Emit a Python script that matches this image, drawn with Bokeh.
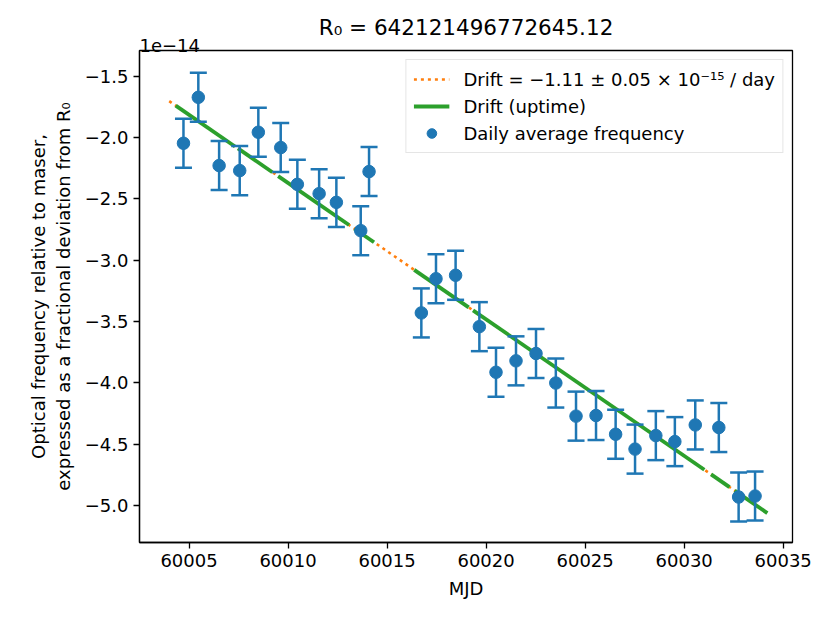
from bokeh.plotting import figure
from bokeh.models import (Range1d, FixedTicker, CustomJSTickFormatter, Legend,
                          LegendItem, Title)
from bokeh.embed import file_html
from bokeh.resources import INLINE

# ---- data (fractional deviation in units of 1e-14) ----
mjd = [60004.72, 60005.47, 60006.52, 60007.56, 60008.50, 60009.63, 60010.47,
       60011.57, 60012.44, 60013.67, 60014.09, 60016.73, 60017.47, 60018.46,
       60019.66, 60020.50, 60021.51, 60022.52, 60023.52, 60024.54, 60025.55,
       60026.54, 60027.52, 60028.57, 60029.53, 60030.56, 60031.75, 60032.75,
       60033.58]
freq = [-2.046, -1.671, -2.228, -2.269, -1.956, -2.081, -2.381, -2.457, -2.528,
        -2.759, -2.277, -3.430, -3.151, -3.123, -3.542, -3.914, -3.821, -3.761,
        -4.002, -4.272, -4.267, -4.420, -4.541, -4.431, -4.480, -4.344, -4.365,
        -4.932, -4.924]
err = [0.20, 0.20, 0.20, 0.20, 0.20, 0.20, 0.20, 0.20, 0.20, 0.20, 0.20, 0.20,
       0.20, 0.20, 0.20, 0.20, 0.20, 0.20, 0.20, 0.20, 0.20, 0.20, 0.20, 0.20,
       0.20, 0.20, 0.20, 0.20, 0.20]

drift_x = [60004.0, 60034.2]
drift_y = [-1.702, -5.063]

uptime_x0 = [60004.33, 60007.47, 60009.50, 60013.35, 60016.37, 60019.34, 60031.36, 60032.55]
uptime_x1 = [60007.32, 60009.21, 60013.08, 60014.34, 60019.12, 60031.02, 60032.29, 60034.20]
uptime_y0 = [-1.739, -2.088, -2.314, -2.743, -3.079, -3.409, -4.747, -4.880]
uptime_y1 = [-2.072, -2.282, -2.713, -2.853, -3.385, -4.709, -4.851, -5.063]

x_ticks = [60005, 60010, 60015, 60020, 60025, 60030, 60035]
y_ticks = [-1.5, -2.0, -2.5, -3.0, -3.5, -4.0, -4.5, -5.0]

title_text = "R\u2080 = 642121496772645.12"
offset_text = "1e\u221214"
x_label = "MJD"
y_label = "Optical frequency relative to maser,\nexpressed as a fractional deviation from R\u2080"
legend_labels = ["Drift = \u22121.11 \u00b1 0.05 \u00d7 10\u207b\u00b9\u2075 / day",
                 "Drift (uptime)", "Daily average frequency"]

BLUE = "#1f77b4"
ORANGE = "#ff7f0e"
GREEN = "#2ca02c"
FONT = "DejaVu Sans"

W, H = 814, 606
ML, MT = 139, 50
MR = 22
MB = 64

p = figure(width=W, height=H, output_backend="svg", toolbar_location=None,
           x_range=Range1d(60002.5, 60035.47), y_range=Range1d(-5.303, -1.289),
           min_border_left=ML, min_border_right=MR, min_border_top=MT,
           min_border_bottom=MB)
p.background_fill_color = "white"
p.border_fill_color = None
p.grid.visible = False
p.outline_line_color = "black"
p.outline_line_width = 1.3
p.outline_line_alpha = 1.0

p.title.text = title_text
p.title.align = "center"
p.title.text_font = FONT
p.title.text_font_size = "21.5px"
p.title.text_font_style = "normal"
p.title.text_color = "black"
p.title.standoff = -4

# offset text ("1e-14") as a second, left-aligned title next to the frame
p.add_layout(Title(text=offset_text, align="left", text_font=FONT,
                   text_font_size="18px", text_font_style="normal",
                   text_color="black", standoff=-2), "above")

for ax in (p.xaxis[0], p.yaxis[0]):
    ax.axis_line_width = 1.3
    ax.major_tick_line_width = 1.3
    ax.major_tick_out = 6
    ax.major_tick_in = 0
    ax.minor_tick_out = 0
    ax.minor_tick_in = 0
    ax.major_label_text_font = FONT
    ax.major_label_text_font_size = "18px"
    ax.major_label_text_color = "black"
    ax.major_label_standoff = 5
    ax.axis_label_text_font = FONT
    ax.axis_label_text_font_size = "18px"
    ax.axis_label_text_font_style = "normal"
    ax.axis_label_text_color = "black"
    ax.axis_label_standoff = 8

p.xaxis.ticker = FixedTicker(ticks=x_ticks)
p.xaxis.formatter = CustomJSTickFormatter(code="return tick.toFixed(0);")
p.yaxis.ticker = FixedTicker(ticks=y_ticks)
p.yaxis.formatter = CustomJSTickFormatter(
    code="return tick.toFixed(1).replace('-', '\u2212');")
p.xaxis.axis_label = x_label
p.yaxis.axis_label = y_label

# drift line (dotted)
r_drift = p.line(drift_x, drift_y, line_color=ORANGE, line_width=2.6,
                 line_dash="3 4")
# uptime segments
r_up = p.multi_line(xs=[[a, b] for a, b in zip(uptime_x0, uptime_x1)],
                    ys=[[a, b] for a, b in zip(uptime_y0, uptime_y1)],
                    line_color=GREEN, line_width=3.8)

# error bars
lo = [f - e for f, e in zip(freq, err)]
hi = [f + e for f, e in zip(freq, err)]
p.segment(x0=mjd, y0=lo, x1=mjd, y1=hi, line_color=BLUE, line_width=2.5)
p.scatter(mjd, lo, marker="dash", size=17, line_color=BLUE, line_width=2.5)
p.scatter(mjd, hi, marker="dash", size=17, line_color=BLUE, line_width=2.5)
r_pts = p.scatter(mjd, freq, marker="circle", size=12.5, fill_color=BLUE,
                  line_color=BLUE)

legend = Legend(items=[LegendItem(label=legend_labels[0], renderers=[r_drift]),
                       LegendItem(label=legend_labels[1], renderers=[r_up]),
                       LegendItem(label=legend_labels[2], renderers=[r_pts])],
                location="top_right", margin=9, padding=7, spacing=3,
                label_height=24, glyph_height=24, glyph_width=36,
                label_standoff=14, label_text_font=FONT,
                label_text_font_size="18px", label_text_color="black",
                border_line_color="#cccccc", border_line_width=1.3,
                background_fill_alpha=0.8)
p.add_layout(legend)

open("out.html", "w").write(file_html(p, INLINE))
